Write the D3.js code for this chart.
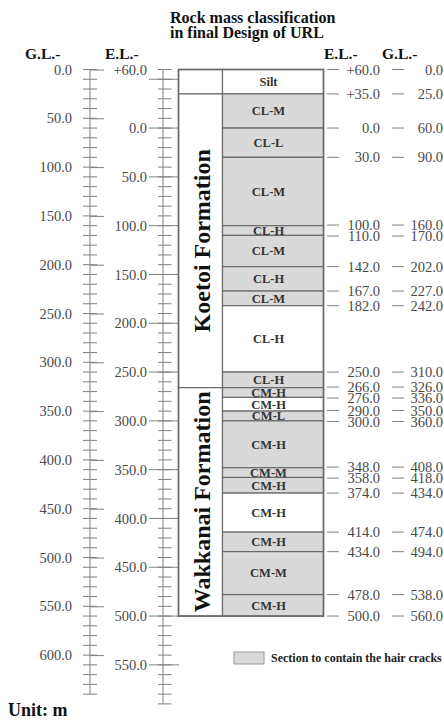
<!DOCTYPE html>
<html>
<head>
<meta charset="utf-8">
<script src="https://cdn.jsdelivr.net/npm/d3@7"></script>
<style>
  body { margin: 0; background: #fff; }
  svg { display: block; }
  text { font-family: "Liberation Serif", "Times New Roman", serif; }
</style>
</head>
<body>
<svg id="chart" width="444" height="720"></svg>
<script>
// Layer boundaries, depth below ground level (G.L., m)
const boundaries = [0, 25, 60, 90, 160, 170, 202, 227, 242, 310, 326, 336, 350, 360, 408, 418, 434, 474, 494, 538, 560];
// Rock mass class of each layer (between consecutive boundaries)
const rockClasses = ["Silt", "CL-M", "CL-L", "CL-M", "CL-H", "CL-M", "CL-H", "CL-M", "CL-H", "CL-H",
                     "CM-H", "CM-H", "CM-L", "CM-H", "CM-M", "CM-H", "CM-H", "CM-H", "CM-M", "CM-H"];
// Whether the layer is a section containing hair cracks
const hairCracks = [false, true, true, true, true, true, true, true, false, true,
                    true, false, true, true, true, true, false, true, true, true];
// Formations
const formationNames = ["", "Koetoi Formation", "Wakkanai Formation"];
const formationTops = [0, 25, 326];
const formationBottoms = [25, 326, 560];
// Ground surface elevation (E.L., m)
const groundElevation = 60;
// Axis ticks
const glLabelTicks = d3.range(0, 601, 50);
const glMinorTicks = d3.range(0, 641, 10);
const elLabelTicks = [-60].concat(d3.range(0, 551, 50)); // depth below sea level
const elMajorTicks = d3.range(-50, 551, 50);
const elMinorTicks = d3.range(-60, 591, 10);

const svg = d3.select("#chart");
const top0 = 69.5, pxPerM = 0.976;
const y = d3.scaleLinear().domain([0, 640]).range([top0, top0 + 640 * pxPerM]);
const elY = d3.scaleLinear()
  .domain([-groundElevation, 640 - groundElevation])
  .range([top0, top0 + 640 * pxPerM]);

const fmtEL = d => d < 0 ? "+" + (-d).toFixed(1) : d.toFixed(1);
const numColor = "#4a4a4a", tickColor = "#808080", lineColor = "#6a6a6a";
const numSize = 14.5;

// Title
const title = svg.append("text").attr("x", 170).attr("y", 23)
  .attr("font-size", 16).attr("font-weight", "bold").attr("fill", "#111");
title.append("tspan").attr("x", 170).attr("dy", 0).text("Rock mass classification");
title.append("tspan").attr("x", 170).attr("dy", 15).text("in final Design of URL");

// Axis headers
const headers = [["G.L.-", 25], ["E.L.-", 105], ["E.L.-", 324], ["G.L.-", 382]];
svg.selectAll("text.hdr").data(headers).join("text").attr("class", "hdr")
  .attr("x", d => d[1]).attr("y", 58.5)
  .attr("font-size", 15.5).attr("font-weight", "bold").attr("fill", "#111")
  .text(d => d[0]);

// ---- G.L. axis ----
const glX = 90;
const glG = svg.append("g").attr("transform", `translate(${glX},0)`);
glG.append("line").attr("x1", 0).attr("x2", 0)
  .attr("y1", y(0)).attr("y2", y(640)).attr("stroke", tickColor);
glG.selectAll("line.minor").data(glMinorTicks).join("line").attr("class", "minor")
  .attr("x1", -7).attr("x2", 7).attr("y1", d => y(d)).attr("y2", d => y(d))
  .attr("stroke", tickColor);
const glAxis = d3.axisLeft(y).tickValues(glLabelTicks).tickSize(17).tickSizeOuter(0)
  .tickPadding(1).tickFormat(d => d.toFixed(1));
glG.call(glAxis);
glG.select(".domain").remove();
glG.selectAll(".tick line").attr("x2", 14).attr("stroke", tickColor);
glG.selectAll(".tick text").attr("font-size", numSize).attr("fill", numColor)
  .attr("font-family", "Liberation Serif, serif");

// ---- E.L. axis ----
const elX = 163;
const elG = svg.append("g").attr("transform", `translate(${elX},0)`);
elG.append("line").attr("x1", 0).attr("x2", 0)
  .attr("y1", elY(-60)).attr("y2", elY(590)).attr("stroke", tickColor);
elG.selectAll("line.minor").data(elMinorTicks).join("line").attr("class", "minor")
  .attr("x1", -5).attr("x2", 8.5).attr("y1", d => elY(d)).attr("y2", d => elY(d))
  .attr("stroke", tickColor);
elG.selectAll("line.major").data(elMajorTicks).join("line").attr("class", "major")
  .attr("x1", -14).attr("x2", 16).attr("y1", d => elY(d)).attr("y2", d => elY(d))
  .attr("stroke", tickColor);
const elAxis = d3.axisLeft(elY).tickValues(elLabelTicks).tickSize(0).tickSizeOuter(0)
  .tickPadding(16).tickFormat(fmtEL);
const elLab = elG.append("g").call(elAxis);
elLab.select(".domain").remove();
elLab.selectAll(".tick text").attr("font-size", numSize).attr("fill", numColor)
  .attr("font-family", "Liberation Serif, serif");

// ---- Formation column ----
const fX0 = 178.5, fX1 = 222.5, rX1 = 323.5;
const formations = formationNames.map((n, i) => ({ name: n, top: formationTops[i], bottom: formationBottoms[i] }));
svg.selectAll("rect.form").data(formations).join("rect").attr("class", "form")
  .attr("x", fX0).attr("width", fX1 - fX0)
  .attr("y", d => y(d.top)).attr("height", d => y(d.bottom) - y(d.top))
  .attr("fill", "#fff").attr("stroke", lineColor).attr("stroke-width", 1.2);
svg.selectAll("text.form").data(formations.filter(d => d.name)).join("text").attr("class", "form")
  .attr("transform", d => `translate(${(fX0 + fX1) / 2 + 1},${(y(d.top) + y(d.bottom)) / 2}) rotate(-90)`)
  .attr("text-anchor", "middle").attr("dy", "0.35em")
  .attr("font-size", 24).attr("font-weight", "bold").attr("fill", "#111")
  .text(d => d.name);

// ---- Rock mass column ----
const layers = rockClasses.map((c, i) => ({ cls: c, top: boundaries[i], bottom: boundaries[i + 1], cracks: hairCracks[i] }));
svg.selectAll("rect.layer").data(layers).join("rect").attr("class", "layer")
  .attr("x", fX1).attr("width", rX1 - fX1)
  .attr("y", d => y(d.top)).attr("height", d => y(d.bottom) - y(d.top))
  .attr("fill", d => d.cracks ? "#d9d9d9" : "#fff")
  .attr("stroke", lineColor).attr("stroke-width", 1.2);
svg.append("rect").attr("x", fX0).attr("y", y(0))
  .attr("width", rX1 - fX0).attr("height", y(560) - y(0))
  .attr("fill", "none").attr("stroke", lineColor).attr("stroke-width", 1.6);
svg.selectAll("text.layer").data(layers).join("text").attr("class", "layer")
  .attr("x", 268.5).attr("y", d => (y(d.top) + y(d.bottom)) / 2)
  .attr("dy", "0.35em").attr("text-anchor", "middle")
  .attr("font-size", 12.5).attr("font-weight", "bold").attr("fill", "#333")
  .text(d => d.cls);

// ---- Boundary depth labels (E.L. and G.L.) ----
// Label positions start at the boundary and are nudged apart where crowded.
const minGap = 11;
const labelY = boundaries.map(b => y(b));
for (let iter = 0; iter < 20; iter++) {
  for (let i = 1; i < labelY.length; i++) {
    const gap = labelY[i] - labelY[i - 1];
    if (gap < minGap) {
      const push = (minGap - gap) / 2;
      labelY[i - 1] -= push;
      labelY[i] += push;
    }
  }
}
const bnd = boundaries.map((b, i) => ({ v: b, ly: labelY[i] }));
const bl = svg.selectAll("g.bnd").data(bnd).join("g").attr("class", "bnd");
bl.append("line").attr("x1", 327).attr("x2", 339)
  .attr("y1", d => d.ly).attr("y2", d => d.ly).attr("stroke", tickColor);
bl.append("line").attr("x1", 392).attr("x2", 404)
  .attr("y1", d => d.ly).attr("y2", d => d.ly).attr("stroke", tickColor);
bl.append("text").attr("x", 380).attr("y", d => d.ly).attr("dy", "0.35em").attr("text-anchor", "end")
  .attr("font-size", numSize).attr("fill", numColor)
  .text(d => fmtEL(d.v - groundElevation));
bl.append("text").attr("x", 443).attr("y", d => d.ly).attr("dy", "0.35em").attr("text-anchor", "end")
  .attr("font-size", numSize).attr("fill", numColor)
  .text(d => d.v.toFixed(1));

// ---- Legend ----
svg.append("rect").attr("x", 234).attr("y", 652).attr("width", 30).attr("height", 12)
  .attr("fill", "#d9d9d9").attr("stroke", "#999");
svg.append("text").attr("x", 271).attr("y", 662)
  .attr("font-size", 12).attr("font-weight", "bold").attr("fill", "#222")
  .text("Section to contain the hair cracks");

// Unit note
svg.append("text").attr("x", 8).attr("y", 716)
  .attr("font-size", 18).attr("font-weight", "bold").attr("fill", "#111")
  .text("Unit: m");
</script>
</body>
</html>
